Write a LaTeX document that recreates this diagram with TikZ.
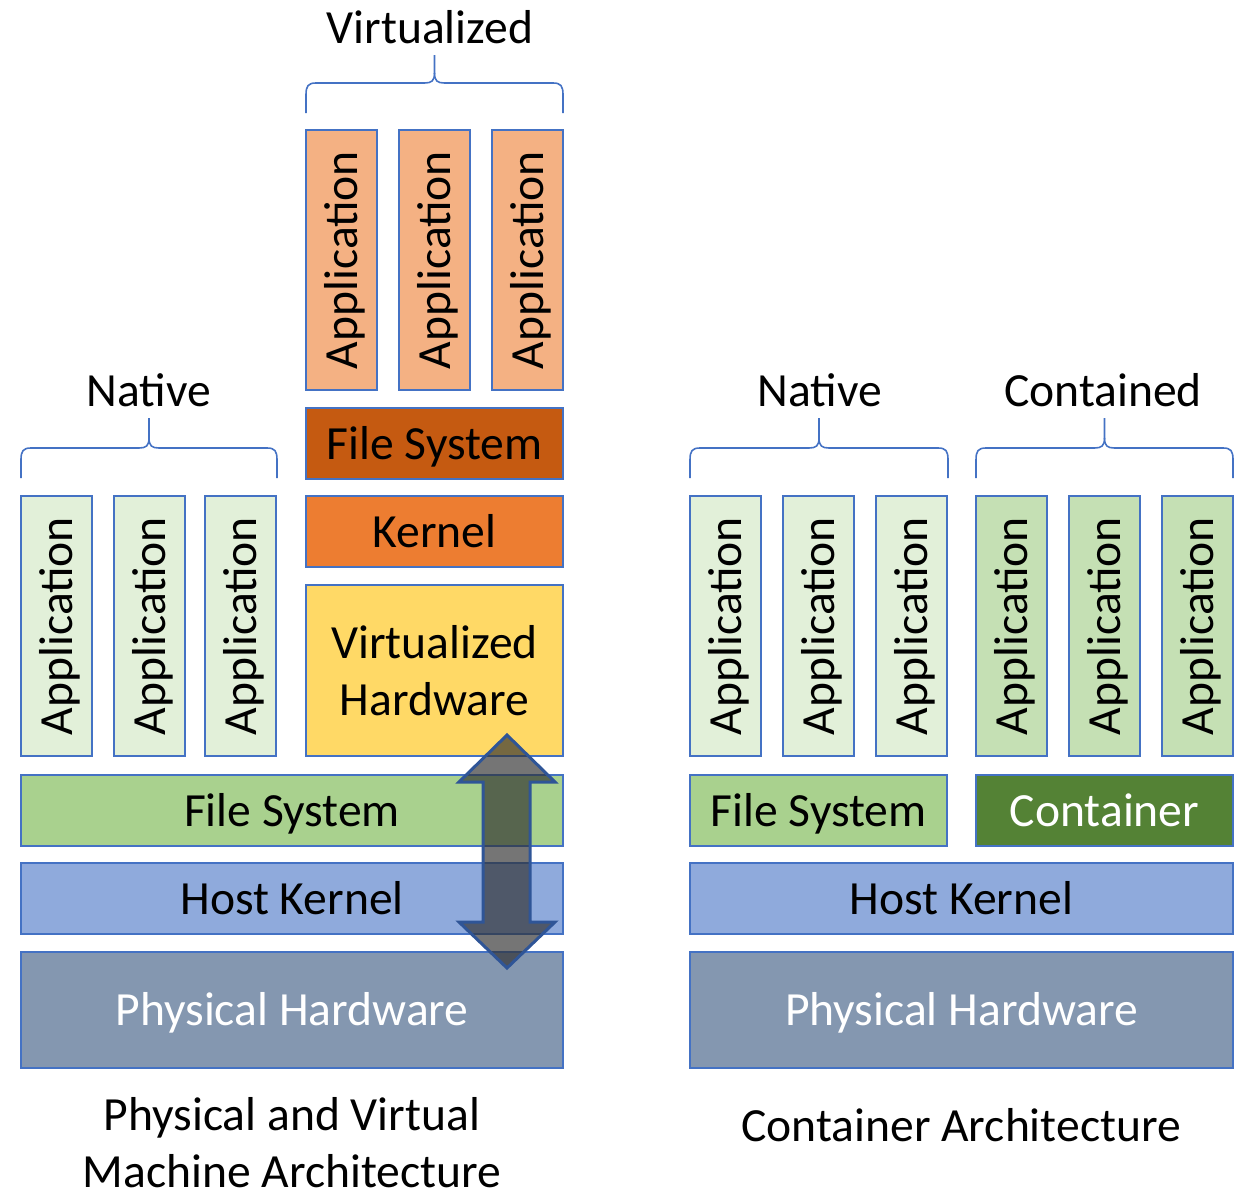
\documentclass[tikz,border=0pt]{standalone}
\usepackage{fontspec}
\setmainfont{Carlito}

\definecolor{edge}{HTML}{4472C4}
\definecolor{arrowedge}{HTML}{2F5597}
\definecolor{nativeapp}{HTML}{E2F0D9}
\definecolor{containedapp}{HTML}{C5E0B4}
\definecolor{vmapp}{HTML}{F4B183}
\definecolor{vmfs}{HTML}{C55A11}
\definecolor{vmkernel}{HTML}{ED7D31}
\definecolor{vmhw}{HTML}{FFD966}
\definecolor{filesys}{HTML}{A9D18E}
\definecolor{containerfill}{HTML}{548235}
\definecolor{hostkernel}{HTML}{8FAADC}
\definecolor{physhw}{HTML}{8497B0}

% curly brace opening downward: left x, right x, tip y, bar y, end y (pixel units)
\newcommand\groupbrace[5]{%
  \pgfmathsetmacro\bxm{(#1+#2)/2}%
  \draw[brace line] (\bxm,#3) -- (\bxm,#4-10) .. controls (\bxm,#4-2) and (\bxm-3,#4) .. (\bxm-10,#4)
    -- (#1+10,#4) .. controls (#1+2,#4) and (#1,#4+3) .. (#1,#4+12) -- (#1,#5);
  \draw[brace line] (\bxm,#4-10) .. controls (\bxm,#4-2) and (\bxm+3,#4) .. (\bxm+10,#4)
    -- (#2-10,#4) .. controls (#2-2,#4) and (#2,#4+3) .. (#2,#4+12) -- (#2,#5);
}

\begin{document}
\begin{tikzpicture}[x=0.5pt, y=-0.5pt,
  font=\fontsize{23.8}{28.5}\selectfont,
  blk/.style={draw=edge, line width=0.8pt, inner sep=0pt, outer sep=0pt, align=center},
  oneline/.style={text height=20pt, text depth=4.5pt},
  appcol/.style={blk, oneline, rotate=90, minimum width=130pt, minimum height=35.5pt},
  narrow/.style={blk, oneline, minimum width=128.5pt, minimum height=35.5pt},
  wide/.style={blk, oneline, minimum width=271pt, minimum height=35.5pt},
  brace line/.style={draw=edge, line width=0.8pt},
  caption/.style={align=center, inner sep=0pt}]

\useasboundingbox (0,0) rectangle (1240,1194);

% ---------- physical and virtual machine architecture ----------
\node[appcol, fill=nativeapp] (la1) at (56.5,626) {Application};
\node[appcol, fill=nativeapp] (la2) at (149.5,626) {Application};
\node[appcol, fill=nativeapp] (la3) at (240.5,626) {Application};

\node[appcol, fill=vmapp] (va1) at (341.5,260) {Application};
\node[appcol, fill=vmapp] (va2) at (434.5,260) {Application};
\node[appcol, fill=vmapp] (va3) at (527.5,260) {Application};

\node[narrow, fill=vmfs] (vfs) at (434.5,443.5) {File System};
\node[narrow, fill=vmkernel] (vk) at (434.5,531.5) {Kernel};
\node[blk, fill=vmhw, minimum width=128.5pt, minimum height=85.5pt] (vhw) at (434.5,670.5) {Virtualized\\Hardware};

\node[wide, fill=filesys] (lfs) at (292,810.5) {File System};
\node[wide, fill=hostkernel] (lhk) at (292,898.5) {Host Kernel};
\node[wide, fill=physhw, text=white, minimum height=58pt] (lph) at (292,1010) {Physical Hardware};

\groupbrace{21}{277}{418}{448}{478}
\node (lnative) at (149,390) {Native};
\groupbrace{306}{563}{55}{83}{113}
\node (lvirt) at (430,27) {Virtualized};

% hardware virtualisation double arrow
\draw[draw=arrowedge, line width=1.5pt, fill=black!82, fill opacity=0.66, line join=miter]
  (507,735) -- (555,782) -- (530,782) -- (530,922) -- (555,922) -- (507,968)
  -- (459,922) -- (483,922) -- (483,782) -- (459,782) -- cycle;

\node[caption] (lcap) at (292,1143) {Physical and Virtual\\Machine Architecture};

% ---------- container architecture ----------
\node[appcol, fill=nativeapp] (ra1) at (725.5,626) {Application};
\node[appcol, fill=nativeapp] (ra2) at (818.5,626) {Application};
\node[appcol, fill=nativeapp] (ra3) at (911.5,626) {Application};

\node[appcol, fill=containedapp] (ca1) at (1011.5,626) {Application};
\node[appcol, fill=containedapp] (ca2) at (1104.5,626) {Application};
\node[appcol, fill=containedapp] (ca3) at (1197.5,626) {Application};

\node[narrow, fill=filesys] (rfs) at (818.5,810.5) {File System};
\node[narrow, fill=containerfill, text=white] (cont) at (1104.5,810.5) {Container};

\node[wide, fill=hostkernel, minimum width=271.5pt] (rhk) at (961.5,898.5) {Host Kernel};
\node[wide, fill=physhw, text=white, minimum width=271.5pt, minimum height=58pt] (rph) at (961.5,1010) {Physical Hardware};

\groupbrace{690}{948}{418}{448}{478}
\node (rnative) at (820,390) {Native};
\groupbrace{976}{1233}{418}{448}{478}
\node (rcont) at (1103,390) {Contained};

\node[caption] (rcap) at (961,1125) {Container Architecture};

\end{tikzpicture}
\end{document}
